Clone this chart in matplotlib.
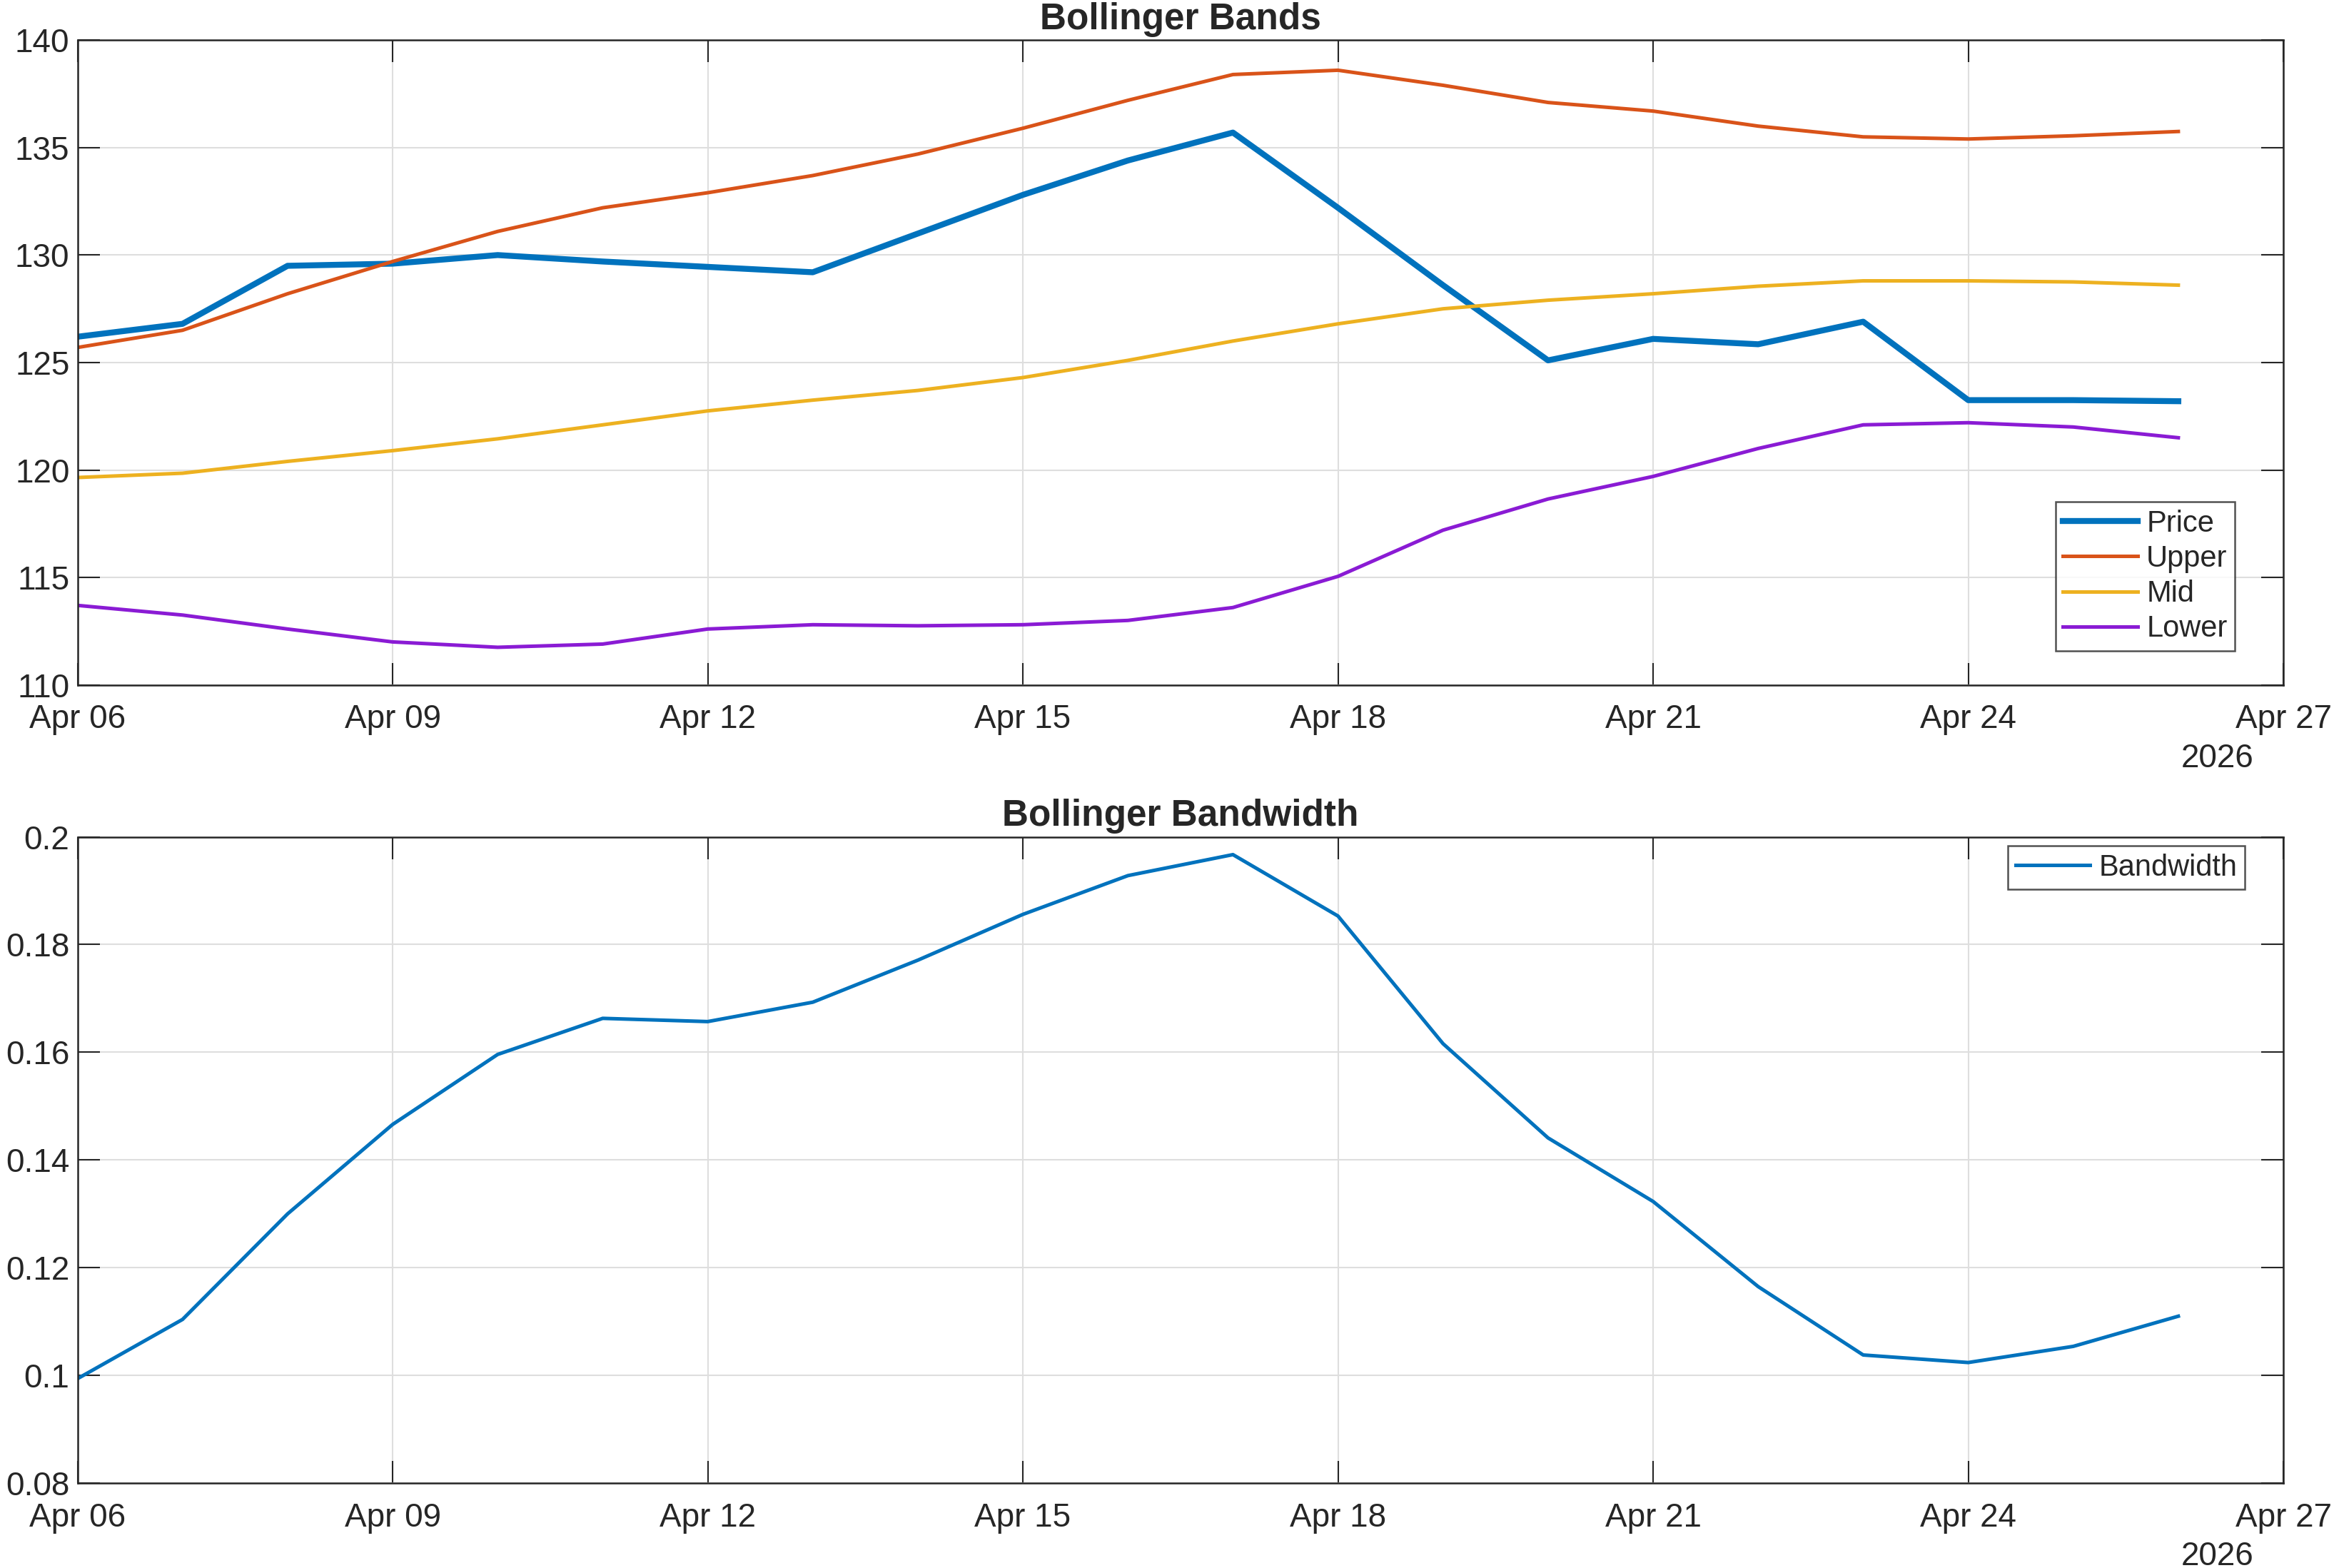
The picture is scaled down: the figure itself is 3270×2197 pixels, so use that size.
import matplotlib
matplotlib.use("Agg")
import matplotlib.pyplot as plt
import matplotlib.dates as mdates
from matplotlib.ticker import FuncFormatter
import pandas as pd

plt.rcParams['font.family'] = ['Liberation Sans', 'DejaVu Sans']

dates = pd.date_range('2026-04-06', '2026-04-26', freq='D')

price = [126.2, 126.8, 129.5, 129.6, 130.0, 129.7, 129.45, 129.2, 131.0, 132.8, 134.4, 135.7,
         132.2, 128.6, 125.1, 126.1, 125.85, 126.9, 123.25, 123.25, 123.2]
upper = [125.7, 126.5, 128.2, 129.7, 131.1, 132.2, 132.9, 133.7, 134.7, 135.9, 137.2, 138.4,
         138.6, 137.9, 137.1, 136.7, 136.0, 135.5, 135.4, 135.55, 135.75]
mid = [119.65, 119.85, 120.4, 120.9, 121.45, 122.1, 122.75, 123.25, 123.7, 124.3, 125.1, 126.0,
       126.8, 127.5, 127.9, 128.2, 128.55, 128.8, 128.8, 128.75, 128.6]
lower = [113.7, 113.25, 112.6, 112.0, 111.75, 111.9, 112.6, 112.8, 112.75, 112.8, 113.0, 113.6,
         115.05, 117.2, 118.65, 119.7, 121.0, 122.1, 122.2, 122.0, 121.5]
bandwidth = [0.0994, 0.1104, 0.1300, 0.1466, 0.1596, 0.1663, 0.1657, 0.1693, 0.1771, 0.1856,
             0.1928, 0.1967, 0.1853, 0.1616, 0.1441, 0.1323, 0.1165, 0.1038, 0.1024, 0.1054, 0.1110]

xticks = pd.date_range('2026-04-06', '2026-04-27', freq='3D')

txt = '#262626'
fs = 33

fig = plt.figure(figsize=(32.7, 21.97), dpi=100)
ax1 = fig.add_axes([0.0332, 0.5632, 0.9451, 0.4112])
ax2 = fig.add_axes([0.0332, 0.0541, 0.9451, 0.4122])


def style(ax):
    for s in ax.spines.values():
        s.set_color(txt)
        s.set_linewidth(1.8)
    ax.tick_params(direction='in', length=22, width=1.5, colors=txt, labelsize=fs,
                   top=True, right=True, labelcolor=txt)
    ax.tick_params(axis='x', pad=19)
    ax.tick_params(axis='y', pad=8)
    ax.grid(True, color='#dedede', linewidth=1.5)
    ax.set_axisbelow(True)
    ax.set_xlim(pd.Timestamp('2026-04-06'), pd.Timestamp('2026-04-27'))
    ax.set_xticks(xticks)
    ax.xaxis.set_major_formatter(mdates.DateFormatter('%b %d'))
    ax.text(0.970, -0.114, '2026', transform=ax.transAxes, ha='center', va='center',
            fontsize=fs, color=txt)


ax1.plot(dates, price, color='#0072BD', linewidth=6, label='Price')
ax1.plot(dates, upper, color='#D95319', linewidth=3.6, label='Upper')
ax1.plot(dates, mid, color='#EDB120', linewidth=3.6, label='Mid')
ax1.plot(dates, lower, color='#8A1BD4', linewidth=3.6, label='Lower')
style(ax1)
ax1.set_ylim(110, 140)
ax1.set_yticks(range(110, 141, 5))
ax1.set_title('Bollinger Bands', fontsize=37, fontweight='bold', color=txt, pad=11)
leg1 = ax1.legend(loc='lower right', bbox_to_anchor=(0.978, 0.053), borderaxespad=0,
                  fontsize=30, frameon=True, fancybox=False, handlelength=2.5,
                  handletextpad=0.3, labelspacing=0.22, borderpad=0.25)
leg1.get_frame().set_edgecolor(txt)
leg1.get_frame().set_linewidth(1.8)
for t in leg1.get_texts():
    t.set_color(txt)

ax2.plot(dates, bandwidth, color='#0072BD', linewidth=3.6, label='Bandwidth')
style(ax2)
ax2.set_ylim(0.08, 0.2)
ax2.set_yticks([0.08, 0.1, 0.12, 0.14, 0.16, 0.18, 0.2])
ax2.yaxis.set_major_formatter(FuncFormatter(lambda v, p: '%g' % round(v, 4)))
ax2.set_title('Bollinger Bandwidth', fontsize=37, fontweight='bold', color=txt, pad=11)
leg2 = ax2.legend(loc='upper right', bbox_to_anchor=(0.9825, 0.986), borderaxespad=0,
                  fontsize=30, frameon=True, fancybox=False, handlelength=2.5,
                  handletextpad=0.3, borderpad=0.25)
leg2.get_frame().set_edgecolor(txt)
leg2.get_frame().set_linewidth(1.8)
for t in leg2.get_texts():
    t.set_color(txt)

fig.savefig('out.png', dpi=100, facecolor='white')
